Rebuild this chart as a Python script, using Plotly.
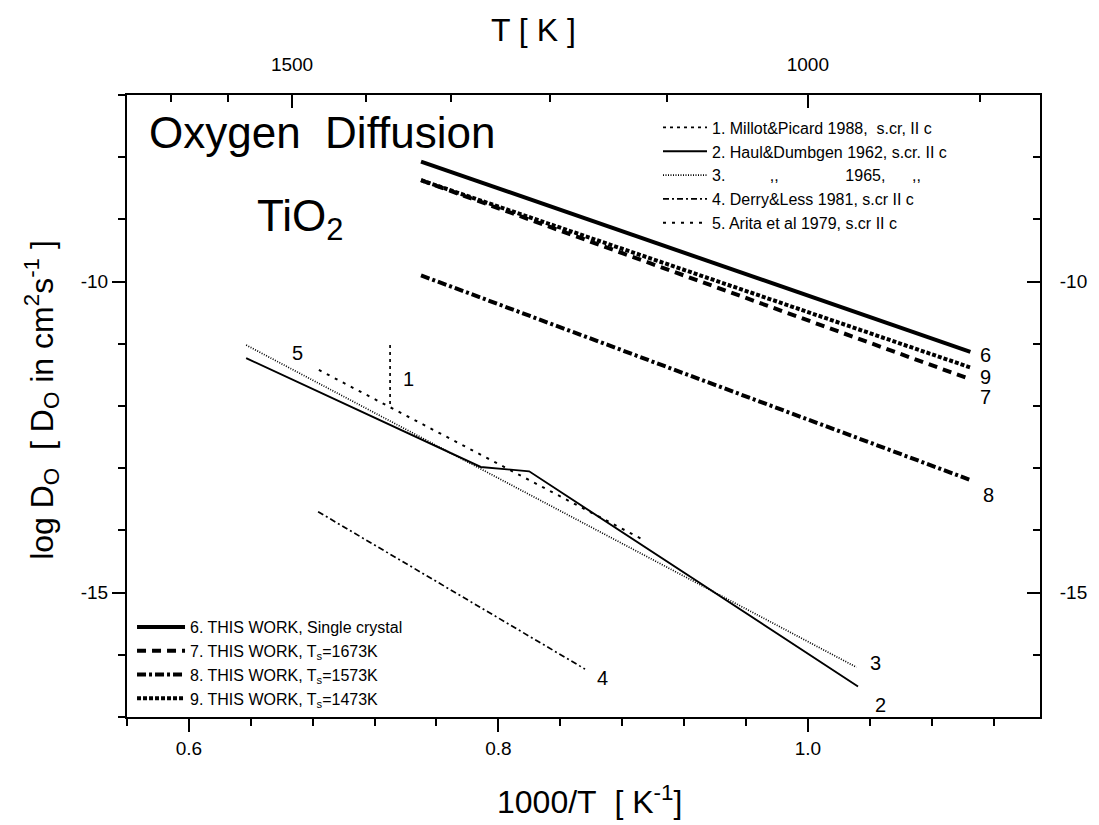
import plotly.graph_objects as go

# ---------------- data ----------------
# literature data (1000/T in K^-1, log D)
x_millot = [0.730, 0.730]
y_millot = [-11.02, -11.98]
x_haul62 = [0.637, 0.7886, 0.8199, 1.0324]
y_haul62 = [-11.23, -12.98, -13.05, -16.51]
x_haul65 = [0.637, 1.0314]
y_haul65 = [-11.02, -16.20]
x_derry = [0.6835, 0.856]
y_derry = [-13.70, -16.23]
x_arita = [0.684, 0.8935]
y_arita = [-11.42, -14.15]

# this work
x_work = [0.75, 1.105]
y_single = [-8.07, -11.13]
y_ts1673 = [-8.37, -11.57]
y_ts1573 = [-9.90, -13.19]
y_ts1473 = [-8.37, -11.38]

# curve number labels: (text, 1000/T, logD)
curve_labels = [("1", 0.742, -11.57), ("2", 1.047, -16.81), ("3", 1.044, -16.13),
                ("4", 0.867, -16.38), ("5", 0.670, -11.14), ("6", 1.115, -11.18),
                ("7", 1.115, -11.85), ("8", 1.117, -13.43), ("9", 1.115, -11.53)]

# axis ticks
x_major = [0.6, 0.8, 1.0]
x_major_text = ["0.6", "0.8", "1.0"]
y_major = [-10, -15]
y_major_text = ["-10", "-15"]
T_labeled = [1500, 1000]
T_minor = [1700, 1600, 1400, 1300, 1200, 1100, 900]

FONT = "Arial, Liberation Sans, sans-serif"

fig = go.Figure()

def add(x, y, name, dash, width, legend, xa="x", ya="y"):
    fig.add_trace(go.Scatter(x=x, y=y, mode="lines", name=name, xaxis=xa, yaxis=ya,
                             line=dict(color="black", width=width, dash=dash),
                             legend=legend, hoverinfo="skip"))

NB = "\u00a0"
add(x_millot, y_millot, "1. Millot&Picard 1988," + NB * 2 + "s.cr, II c", "3px,4px", 1.7, "legend")
add(x_haul62, y_haul62, "2. Haul&Dumbgen 1962, s.cr. II c", "solid", 1.9, "legend")
add(x_haul65, y_haul65, "3." + NB * 10 + ",," + NB * 15 + "1965," + NB * 6 + ",,", "1px,1.5px", 1.7, "legend")
add(x_derry, y_derry, "4. Derry&Less 1981, s.cr II c", "6px,3px,2px,3px", 1.7, "legend")
add(x_arita, y_arita, "5. Arita et al 1979, s.cr II c", "3px,6px", 2, "legend")

add(x_work, y_single, "6. THIS WORK, Single crystal", "solid", 4, "legend2", "x2", "y2")
add(x_work, y_ts1673, "7. THIS WORK, T<sub>s</sub>=1673K", "9px,6px", 4, "legend2", "x2", "y2")
add(x_work, y_ts1573, "8. THIS WORK, T<sub>s</sub>=1573K", "9px,3px,3px,3px", 4, "legend2", "x2", "y2")
add(x_work, y_ts1473, "9. THIS WORK, T<sub>s</sub>=1473K", "4px,2px", 4, "legend2", "x2", "y2")

for txt, xv, yv in curve_labels:
    fig.add_annotation(x=xv, y=yv, xref="x", yref="y", text=txt, showarrow=False,
                       font=dict(size=20, color="black", family=FONT))

# big labels
fig.add_annotation(x=0.022, y=0.939, xref="paper", yref="paper", xanchor="left", yanchor="middle",
                   text="Oxygen" + NB * 2 + "Diffusion", showarrow=False,
                   font=dict(size=44, color="black", family=FONT))
fig.add_annotation(x=0.140, y=0.80, xref="paper", yref="paper", xanchor="left", yanchor="middle",
                   text="TiO<sub>2</sub>", showarrow=False,
                   font=dict(size=44, color="black", family=FONT))

# axis titles
fig.add_annotation(x=0.507, y=-0.133, xref="paper", yref="paper", xanchor="center", yanchor="middle",
                   text="1000/T" + NB * 2 + "[ K<sup>-1</sup>]", showarrow=False,
                   font=dict(size=32, color="black", family=FONT))
fig.add_annotation(x=0.445, y=1.105, xref="paper", yref="paper", xanchor="center", yanchor="middle",
                   text="T [ K ]", showarrow=False,
                   font=dict(size=32, color="black", family=FONT))
fig.add_annotation(x=-0.093, y=0.51, xref="paper", yref="paper", xanchor="center", yanchor="middle",
                   textangle=-90,
                   text="log D<sub>O</sub>" + NB * 2 + "[ D<sub>O</sub> in cm<sup>2</sup>s<sup>-1</sup> ]",
                   showarrow=False, font=dict(size=32, color="black", family=FONT))

XR = [0.56, 1.15]
YR = [-17, -7]
tickfont = dict(size=19, color="black", family=FONT)

fig.update_layout(
    width=1099, height=825,
    margin=dict(l=127, r=59, t=95, b=108),
    paper_bgcolor="white", plot_bgcolor="white",
    font=dict(family=FONT, color="black"),
    xaxis=dict(range=XR, showgrid=False, zeroline=False, showline=True, linecolor="black", linewidth=2,
               tickmode="array", tickvals=x_major, ticktext=x_major_text, ticks="outside",
               ticklen=13, tickwidth=2, tickcolor="black", tickfont=tickfont,
               minor=dict(tick0=0.56, dtick=0.04, ticks="outside", ticklen=7, tickwidth=2,
                          tickcolor="black", showgrid=False)),
    xaxis2=dict(range=XR, overlaying="x", side="top", anchor="y2", showgrid=False, zeroline=False,
                showline=True, linecolor="black", linewidth=2,
                tickmode="array", tickvals=[1000.0 / t for t in T_labeled],
                ticktext=[str(t) for t in T_labeled], ticks="inside", ticklen=13, tickwidth=2,
                tickcolor="black", tickfont=tickfont, ticklabelstandoff=14,
                minor=dict(tickmode="array", tickvals=[1000.0 / t for t in T_minor], ticks="inside",
                           ticklen=7, tickwidth=2, tickcolor="black", showgrid=False)),
    yaxis=dict(range=YR, showgrid=False, zeroline=False, showline=True, linecolor="black", linewidth=2,
               tickmode="array", tickvals=y_major, ticktext=y_major_text, ticks="outside",
               ticklen=13, tickwidth=2, tickcolor="black", tickfont=tickfont,
               minor=dict(tick0=-17, dtick=1, ticks="outside", ticklen=7, tickwidth=2,
                          tickcolor="black", showgrid=False)),
    yaxis2=dict(range=YR, overlaying="y", side="right", anchor="x2", showgrid=False, zeroline=False,
                showline=True, linecolor="black", linewidth=2,
                tickmode="array", tickvals=y_major, ticktext=y_major_text, ticks="inside",
                ticklen=13, tickwidth=2, tickcolor="black", tickfont=tickfont, ticklabelstandoff=14,
                minor=dict(tick0=-17, dtick=1, ticks="inside", ticklen=7, tickwidth=2,
                           tickcolor="black", showgrid=False)),
    legend=dict(x=0.5816, y=0.975, xanchor="left", yanchor="top", bgcolor="rgba(0,0,0,0)",
                borderwidth=0, itemwidth=44, font=dict(size=16, color="black", family=FONT),
                tracegroupgap=0),
    legend2=dict(x=0.0055, y=0.172, xanchor="left", yanchor="top", bgcolor="rgba(0,0,0,0)",
                 borderwidth=0, itemwidth=48, font=dict(size=16, color="black", family=FONT),
                 tracegroupgap=0),
    showlegend=True,
)

fig.write_html("out.html")
